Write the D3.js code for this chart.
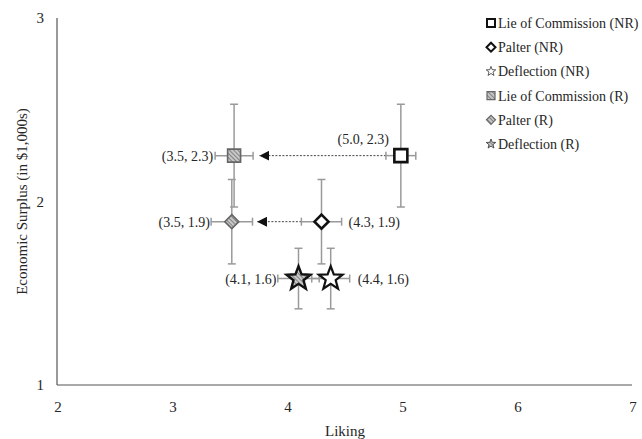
<!DOCTYPE html>
<html>
<head>
<meta charset="utf-8">
<script src="https://cdn.jsdelivr.net/npm/d3@7"></script>
<style>
  body { margin: 0; background: #fff; }
  text { font-family: "Liberation Serif", "Times New Roman", serif; fill: #262626; }
</style>
</head>
<body>
<div id="chart"></div>
<script>
const width = 642;
const height = 439;

// chart values
const names = ["Lie of Commission (NR)", "Palter (NR)", "Deflection (NR)",
               "Lie of Commission (R)", "Palter (R)", "Deflection (R)"];
const shapes = ["square", "diamond", "star", "square", "diamond", "star"];
const liking = [4.99, 4.30, 4.38, 3.54, 3.52, 4.10];
const surplus = [2.25, 1.89, 1.58, 2.25, 1.89, 1.58];
const likingErr = [0.13, 0.175, 0.165, 0.165, 0.18, 0.18];
const surplusErr = [0.28, 0.23, 0.165, 0.28, 0.23, 0.165];
const pointLabels = ["(5.0, 2.3)", "(4.3, 1.9)", "(4.4, 1.6)", "(3.5, 2.3)", "(3.5, 1.9)", "(4.1, 1.6)"];
const xTicks = [2, 3, 4, 5, 6, 7];
const yTicks = [1, 2, 3];
// arrows go from NR point (index) to R point (index)
const arrows = [[0, 3], [1, 4]];

const x = d3.scaleLinear().domain([2, 7]).range([57, 632]);
const y = d3.scaleLinear().domain([1, 3]).range([385, 18]);

const svg = d3.select("#chart").append("svg")
  .attr("width", width)
  .attr("height", height);

const defs = svg.append("defs");
const pat = defs.append("pattern")
  .attr("id", "hatch")
  .attr("patternUnits", "userSpaceOnUse")
  .attr("width", 3).attr("height", 3)
  .attr("patternTransform", "rotate(-45)");
pat.append("rect").attr("width", 3).attr("height", 3).attr("fill", "#c8c8c8");
pat.append("line").attr("x1", 0).attr("y1", 0).attr("x2", 0).attr("y2", 3)
  .attr("stroke", "#555").attr("stroke-width", 1.2);

defs.append("marker")
  .attr("id", "arrowhead")
  .attr("viewBox", "0 0 10 10")
  .attr("refX", 10).attr("refY", 5)
  .attr("markerWidth", 10).attr("markerHeight", 10)
  .attr("markerUnits", "userSpaceOnUse")
  .attr("orient", "auto")
  .append("path")
  .attr("d", "M0,0 L10,5 L0,10 Z")
  .attr("fill", "#111");

// axes, lines only
svg.append("line")
  .attr("x1", x(2)).attr("x2", x(2)).attr("y1", y(3)).attr("y2", y(1))
  .attr("stroke", "#555").attr("stroke-width", 1.2);
svg.append("line")
  .attr("x1", x(2)).attr("x2", x(7)).attr("y1", y(1)).attr("y2", y(1))
  .attr("stroke", "#555").attr("stroke-width", 1.2);

svg.selectAll(".xt").data(xTicks).enter().append("text")
  .attr("x", d => x(d) + 1).attr("y", 412)
  .attr("text-anchor", "middle").style("font-size", "15px")
  .text(d => d);
svg.selectAll(".yt").data(yTicks).enter().append("text")
  .attr("x", 44).attr("y", d => y(d) + 5)
  .attr("text-anchor", "end").style("font-size", "15px")
  .text(d => d);

svg.append("text")
  .attr("x", 345).attr("y", 436)
  .attr("text-anchor", "middle").style("font-size", "15px")
  .text("Liking");
svg.append("text")
  .attr("transform", "translate(27," + y(2) + ") rotate(-90)")
  .attr("text-anchor", "middle").style("font-size", "15px")
  .text("Economic Surplus (in $1,000s)");

// dotted arrows
svg.selectAll(".arrow").data(arrows).enter().append("line")
  .attr("x1", d => x(liking[d[0]] - likingErr[d[0]]))
  .attr("x2", d => x(liking[d[1]] + 0.22))
  .attr("y1", d => y(surplus[d[0]]))
  .attr("y2", d => y(surplus[d[1]]))
  .attr("stroke", "#444").attr("stroke-width", 1)
  .attr("stroke-dasharray", "2,1.5")
  .attr("marker-end", "url(#arrowhead)");

const idx = d3.range(names.length);

// error bars
const eb = svg.append("g").attr("stroke", "#9a9a9a").attr("stroke-width", 1.5);
idx.forEach(i => {
  const cx = x(liking[i]), cy = y(surplus[i]);
  const y0 = y(surplus[i] - surplusErr[i]), y1 = y(surplus[i] + surplusErr[i]);
  const x0 = x(liking[i] - likingErr[i]), x1 = x(liking[i] + likingErr[i]);
  eb.append("line").attr("x1", cx).attr("x2", cx).attr("y1", y0).attr("y2", y1);
  eb.append("line").attr("x1", cx - 4).attr("x2", cx + 4).attr("y1", y0).attr("y2", y0);
  eb.append("line").attr("x1", cx - 4).attr("x2", cx + 4).attr("y1", y1).attr("y2", y1);
  eb.append("line").attr("x1", x0).attr("x2", x1).attr("y1", cy).attr("y2", cy);
  eb.append("line").attr("x1", x0).attr("x2", x0).attr("y1", cy - 4).attr("y2", cy + 4);
  eb.append("line").attr("x1", x1).attr("x2", x1).attr("y1", cy - 4).attr("y2", cy + 4);
});

function shapePath(shape, s) {
  if (shape === "square") return `M${-s},${-s}H${s}V${s}H${-s}Z`;
  if (shape === "diamond") return `M0,${-s}L${s},0L0,${s}L${-s},0Z`;
  // star
  let p = "";
  for (let k = 0; k < 10; k++) {
    const r = k % 2 === 0 ? s : s * 0.42;
    const a = -Math.PI / 2 + k * Math.PI / 5;
    p += (k ? "L" : "M") + (r * Math.cos(a)).toFixed(2) + "," + (r * Math.sin(a)).toFixed(2);
  }
  return p + "Z";
}

function styleFor(i) {
  const r = i >= 3;
  const shape = shapes[i];
  if (!r) return { fill: "#fff", stroke: "#111", sw: shape === "star" ? 2.2 : 2.6 };
  if (shape === "star") return { fill: "url(#hatch)", stroke: "#111", sw: 2.4 };
  return { fill: "url(#hatch)", stroke: "#666", sw: 1.6 };
}

const sizes = { square: 6.5, diamond: 7, star: 12.5 };

svg.selectAll(".pt").data(idx).enter().append("path")
  .attr("transform", i => `translate(${x(liking[i])},${y(surplus[i])})`)
  .attr("d", i => shapePath(shapes[i], sizes[shapes[i]]))
  .attr("fill", i => styleFor(i).fill)
  .attr("stroke", i => styleFor(i).stroke)
  .attr("stroke-width", i => styleFor(i).sw)
  .attr("stroke-linejoin", "miter");

// point labels: [dx, dy, anchor]
const labelPos = [
  [-12, -12, "end"],
  [27, 5, "start"],
  [27, 5, "start"],
  [-21, 5, "end"],
  [-22, 5, "end"],
  [-22, 5, "end"]
];
svg.selectAll(".pl").data(idx).enter().append("text")
  .attr("x", i => x(liking[i]) + labelPos[i][0])
  .attr("y", i => y(surplus[i]) + labelPos[i][1])
  .attr("text-anchor", i => labelPos[i][2])
  .style("font-size", "14px")
  .text(i => pointLabels[i]);

// legend
const leg = svg.append("g");
const legY = i => 23 + i * 24.2;
const legSizes = { square: 4, diamond: 4.5, star: 5 };
idx.forEach(i => {
  const st = styleFor(i);
  const g = leg.append("g").attr("transform", `translate(491,${legY(i)})`);
  g.append("path")
    .attr("d", shapePath(shapes[i], legSizes[shapes[i]]))
    .attr("fill", st.fill)
    .attr("stroke", shapes[i] === "star" ? "#333" : st.stroke)
    .attr("stroke-width", shapes[i] === "star" ? 0.8 : (i < 3 ? 2 : 1.2));
  g.append("text").attr("x", 7).attr("y", 5)
    .style("font-size", "14px")
    .text(names[i]);
});
</script>
</body>
</html>
